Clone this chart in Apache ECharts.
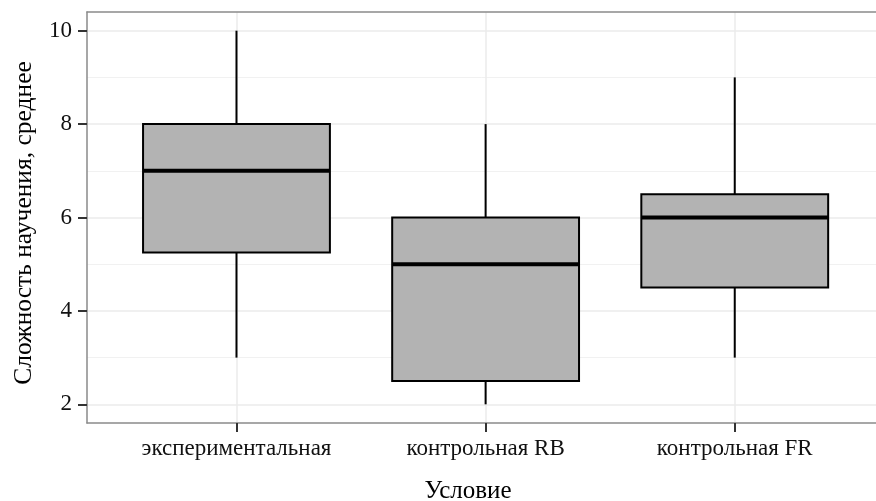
<!DOCTYPE html>
<html>
<head>
<meta charset="utf-8">
<script src="https://cdn.jsdelivr.net/npm/echarts@6/dist/echarts.min.js"></script>
<style>
  html, body { margin: 0; padding: 0; background: #fff; }
  #chart { width: 876px; height: 501px; }
</style>
</head>
<body>
<div id="chart"></div>
<script>
// категории и статистики ящиков (читаются с картинки)
var categories = ['экспериментальная', 'контрольная RB', 'контрольная FR'];
var positions = [1, 2, 3];
var mins = [3, 2, 3];
var q1s = [5.25, 2.5, 4.5];
var medians = [7, 5, 6];
var q3s = [8, 6, 6.5];
var maxs = [10, 8, 9];
var yTicks = [2, 4, 6, 8, 10];
var yMinor = [3, 5, 7, 9];

var font = 'Liberation Serif';
var boxWidth = 0.75;

var chart = echarts.init(document.getElementById('chart'), null, { renderer: 'canvas' });

var boxData = positions.map(function (p, i) {
  return [p, mins[i], q1s[i], medians[i], q3s[i], maxs[i]];
});

// рисуем ящик с усами как в ggplot (без поперечных концов)
function renderBox(params, api) {
  var x = api.value(0);
  var lo = api.coord([x, api.value(1)]);
  var q1 = api.coord([x, api.value(2)]);
  var md = api.coord([x, api.value(3)]);
  var q3 = api.coord([x, api.value(4)]);
  var hi = api.coord([x, api.value(5)]);
  var half = api.size([boxWidth, 0])[0] / 2;
  var thin = { stroke: '#000', lineWidth: 2 };
  return {
    type: 'group',
    children: [
      { type: 'line', shape: { x1: lo[0], y1: lo[1], x2: q1[0], y2: q1[1] }, style: thin },
      { type: 'line', shape: { x1: q3[0], y1: q3[1], x2: hi[0], y2: hi[1] }, style: thin },
      {
        type: 'rect',
        shape: { x: q3[0] - half, y: q3[1], width: half * 2, height: q1[1] - q3[1] },
        style: { fill: '#b3b3b3', stroke: '#000', lineWidth: 2 }
      },
      {
        type: 'line',
        shape: { x1: md[0] - half, y1: md[1], x2: md[0] + half, y2: md[1] },
        style: { stroke: '#000', lineWidth: 4 }
      }
    ]
  };
}

var option = {
  animation: false,
  backgroundColor: '#fff',
  grid: { left: 87, top: 12, right: 0, bottom: 78, containLabel: false },
  xAxis: [{
    type: 'value',
    min: 0.4,
    max: 3.567,
    position: 'bottom',
    axisLine: { show: true, lineStyle: { color: '#8a8a8a', width: 1.5 } },
    axisTick: { show: true, length: 9, customValues: positions, lineStyle: { color: '#333', width: 2 } },
    axisLabel: {
      customValues: positions,
      margin: 14,
      fontFamily: font,
      fontSize: 23,
      color: '#111',
      formatter: function (v) { return categories[Math.round(v) - 1]; }
    },
    splitLine: { show: true, lineStyle: { color: '#ebebeb', width: 1.5 } }
  }, {
    type: 'value',
    min: 0.4,
    max: 3.567,
    position: 'top',
    axisLine: { show: true, lineStyle: { color: '#8a8a8a', width: 1.5 } },
    axisTick: { show: false },
    axisLabel: { show: false },
    splitLine: { show: false }
  }],
  yAxis: [{
    type: 'value',
    min: 1.6,
    max: 10.4,
    position: 'left',
    axisLine: { show: true, lineStyle: { color: '#8a8a8a', width: 1.5 } },
    axisTick: { show: true, length: 9, customValues: yTicks, lineStyle: { color: '#333', width: 2 } },
    axisLabel: {
      customValues: yTicks,
      margin: 15,
      fontFamily: font,
      fontSize: 23,
      color: '#111'
    },
    splitLine: { show: true, lineStyle: { color: '#ebebeb', width: 1.5 } }
  }, {
    type: 'value',
    min: 1.6,
    max: 10.4,
    position: 'right',
    axisLine: { show: false },
    axisTick: { show: false, customValues: yMinor },
    axisLabel: { show: false, customValues: yMinor },
    splitLine: { show: true, lineStyle: { color: '#f1f1f1', width: 1 } }
  }],
  series: [{
    type: 'custom',
    renderItem: renderBox,
    xAxisIndex: 0,
    yAxisIndex: 0,
    encode: { x: 0, y: [1, 2, 3, 4, 5] },
    data: boxData,
    z: 5
  }],
  graphic: [{
    type: 'text',
    x: 468,
    y: 491,
    style: {
      text: 'Условие',
      font: '25px "Liberation Serif"',
      fill: '#000',
      textAlign: 'center',
      textVerticalAlign: 'middle'
    }
  }, {
    type: 'text',
    x: 24,
    y: 223,
    rotation: Math.PI / 2,
    style: {
      text: 'Сложность научения, среднее',
      font: '25.5px "Liberation Serif"',
      fill: '#000',
      textAlign: 'center',
      textVerticalAlign: 'middle'
    }
  }]
};

chart.setOption(option);
</script>
</body>
</html>
